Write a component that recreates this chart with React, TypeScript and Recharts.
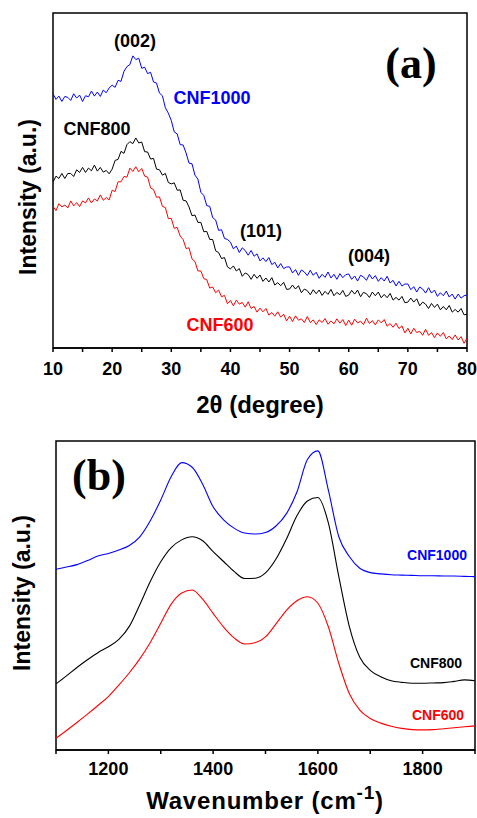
import React from "react";
import { LineChart, Line, XAxis, YAxis, ReferenceArea } from "recharts";

// XRD patterns, 2θ from 10° to 80° every 0.5°
const xrdAngles = Array.from({ length: 141 }, (_, i) => 10 + i * 0.5);

const xrdCnf1000 = [
  75.9, 74.2, 75.2, 73.6, 75.1, 74.8, 73.9, 75.9, 74.6, 75.5, 73.6, 75.3, 75.0, 76.7, 75.2, 76.4, 75.1, 77.0, 76.2, 77.6,
  78.5, 77.8, 79.9, 79.6, 82.6, 84.0, 84.6, 87.2, 86.1, 86.5, 83.5, 83.8, 81.9, 82.3, 79.4, 79.1, 76.1, 75.3, 71.7, 70.1,
  67.9, 64.5, 63.9, 60.7, 60.6, 58.2, 55.2, 55.0, 51.6, 50.4, 46.5, 45.5, 42.5, 42.3, 38.9, 38.2, 35.1, 35.3, 32.7, 32.4,
  31.6, 29.6, 30.4, 28.5, 29.9, 29.1, 27.7, 29.1, 27.4, 28.1, 26.0, 26.9, 25.8, 27.0, 24.9, 25.6, 23.9, 25.2, 23.7, 24.2,
  24.2, 22.4, 23.4, 21.7, 23.3, 22.7, 21.6, 23.2, 21.7, 22.6, 20.8, 22.0, 21.1, 22.7, 20.9, 22.0, 20.5, 22.2, 21.0, 21.9,
  22.1, 20.5, 21.5, 20.0, 21.7, 21.2, 20.2, 22.0, 20.6, 21.6, 19.9, 21.0, 20.0, 21.4, 19.4, 20.2, 18.5, 19.9, 18.5, 19.1,
  19.1, 17.4, 18.3, 16.7, 18.2, 17.6, 16.4, 18.0, 16.4, 17.3, 15.4, 16.5, 15.6, 17.0, 15.2, 16.1, 14.6, 16.1, 14.9, 15.6,
  15.8,
];

const xrdCnf800 = [
  49.5, 51.3, 50.6, 52.1, 50.6, 52.1, 52.1, 51.2, 53.2, 52.4, 53.9, 52.4, 53.7, 52.9, 54.6, 52.8, 53.9, 52.5, 53.0, 52.0,
  53.4, 56.0, 56.3, 58.7, 58.1, 60.7, 61.6, 61.0, 62.7, 61.2, 61.5, 58.6, 58.5, 56.4, 56.6, 53.4, 53.2, 51.6, 52.1, 49.4,
  49.0, 49.3, 47.1, 47.2, 44.1, 43.9, 42.1, 39.5, 39.7, 37.5, 37.5, 34.7, 34.8, 32.4, 32.4, 29.0, 28.5, 26.7, 27.0, 24.2,
  23.6, 24.5, 23.0, 23.7, 21.4, 22.4, 21.9, 20.5, 22.0, 20.8, 21.8, 19.9, 20.9, 19.7, 21.0, 18.8, 19.5, 18.6, 19.6, 17.5,
  17.6, 18.8, 17.6, 18.6, 16.5, 17.6, 17.1, 15.9, 17.4, 16.2, 17.3, 15.7, 16.9, 16.0, 17.5, 15.6, 16.6, 15.9, 17.2, 15.4,
  15.8, 17.2, 16.1, 17.3, 15.3, 16.6, 16.2, 15.1, 16.7, 15.6, 16.7, 15.0, 16.0, 15.0, 16.3, 14.3, 15.1, 14.3, 15.4, 13.5,
  13.7, 14.9, 13.7, 14.7, 12.6, 13.7, 13.1, 11.8, 13.3, 12.1, 13.1, 11.4, 12.4, 11.4, 12.7, 10.7, 11.5, 10.7, 11.8, 9.9,
  10.1,
];

const xrdCnf600 = [
  42.3, 41.0, 43.1, 42.1, 42.7, 41.8, 43.9, 42.4, 43.4, 42.2, 43.9, 43.3, 44.8, 43.3, 44.5, 43.9, 45.7, 44.1, 44.9, 44.2,
  47.1, 46.7, 49.6, 49.6, 51.2, 51.0, 53.7, 52.7, 54.1, 52.6, 53.6, 51.3, 51.0, 47.8, 47.3, 45.0, 45.1, 42.3, 41.9, 38.6,
  38.7, 35.7, 36.0, 33.4, 32.4, 29.7, 29.9, 26.6, 25.8, 23.0, 23.0, 20.7, 20.4, 17.9, 18.2, 16.5, 17.3, 15.3, 15.7, 13.2,
  14.2, 12.6, 14.3, 13.1, 13.6, 12.2, 13.8, 11.8, 12.4, 10.7, 11.9, 10.8, 11.8, 9.8, 10.6, 9.5, 10.8, 9.2, 10.1, 8.1,
  9.5, 7.9, 9.6, 8.3, 8.7, 7.6, 9.4, 7.6, 8.4, 7.0, 8.4, 7.6, 8.8, 7.1, 8.1, 7.2, 8.7, 7.4, 8.5, 6.7,
  8.3, 6.8, 8.6, 7.5, 8.0, 7.0, 8.9, 7.3, 8.2, 6.9, 8.4, 7.5, 8.5, 6.5, 7.3, 6.2, 7.4, 5.8, 6.6, 4.5,
  5.9, 4.2, 5.9, 4.6, 5.0, 3.8, 5.6, 3.8, 4.6, 3.1, 4.5, 3.5, 4.6, 2.7, 3.6, 2.5, 3.9, 2.4, 3.4, 1.4,
  2.9,
];

// major ticks every 10°, minor every 5°
const xrdTicks = [10, 15, 20, 25, 30, 35, 40, 45, 50, 55, 60, 65, 70, 75, 80];

// Raman spectra
const ramanWavenumbers = [
  1100, 1120, 1140, 1160, 1180, 1200, 1220, 1240, 1260, 1280, 1300, 1320, 1340, 1360, 1380, 1400, 1420, 1440, 1460, 1480,
  1500, 1520, 1540, 1560, 1580, 1600, 1620, 1640, 1660, 1680, 1700, 1720, 1740, 1760, 1780, 1800, 1820, 1840, 1860, 1880,
  1900,
];

const ramanCnf1000 = [
  58.5, 59.2, 60.0, 61.3, 62.8, 63.6, 64.7, 66.2, 69.0, 74.2, 80.9, 88.5, 93.0, 91.5, 86.0, 78.7, 74.5, 71.8, 70.2, 69.9,
  70.4, 72.5, 76.5, 83.5, 94.0, 96.8, 84.1, 69.0, 62.6, 58.8, 57.4, 57.0, 56.7, 56.6, 56.5, 56.4, 56.4, 56.3, 56.3, 56.2,
  56.1,
];

const ramanCnf800 = [
  21.4, 24.0, 26.7, 29.2, 31.5, 33.4, 35.8, 40.0, 47.0, 54.5, 60.9, 65.5, 68.0, 69.0, 67.7, 64.2, 61.0, 57.8, 55.5, 55.6,
  57.3, 61.8, 68.3, 75.8, 80.6, 81.7, 73.5, 56.1, 40.0, 30.0, 25.8, 23.7, 22.4, 21.9, 21.6, 21.6, 21.7, 21.8, 22.2, 22.7,
  22.4,
];

const ramanCnf600 = [
  3.8, 6.3, 8.9, 11.6, 14.4, 17.3, 21.0, 25.0, 29.5, 34.8, 41.0, 47.2, 50.8, 51.8, 48.8, 44.2, 39.8, 36.3, 34.3, 34.7,
  36.6, 40.8, 45.2, 48.3, 49.6, 47.5, 39.9, 28.0, 18.3, 12.9, 10.2, 8.7, 7.7, 7.0, 6.6, 6.5, 6.6, 6.9, 7.2, 7.5,
  7.8,
];

const ramanTicks = [1100, 1200, 1300, 1400, 1500, 1600, 1700, 1800, 1900];

const xrdData = xrdAngles.map((angle, i) => ({
  angle,
  cnf1000: xrdCnf1000[i],
  cnf800: xrdCnf800[i],
  cnf600: xrdCnf600[i],
}));

const ramanData = ramanWavenumbers.map((wn, i) => ({
  wn,
  cnf1000: ramanCnf1000[i],
  cnf800: ramanCnf800[i],
  cnf600: ramanCnf600[i],
}));

const SANS = '"Liberation Sans", Arial, sans-serif';
const SERIF = '"Liberation Serif", "Times New Roman", serif';
const BLUE = "#0000ff";
const RED = "#ff0000";

function Txt({
  x,
  y,
  size,
  color = "#000",
  serif = false,
  rotate = false,
  spacing = 0,
  children,
}: {
  x: number;
  y: number;
  size: number;
  color?: string;
  serif?: boolean;
  rotate?: boolean;
  spacing?: number;
  children: React.ReactNode;
}) {
  return (
    <div
      style={{
        position: "absolute",
        left: x,
        top: y,
        transform: `translate(-50%, -50%)${rotate ? " rotate(-90deg)" : ""}`,
        fontFamily: serif ? SERIF : SANS,
        fontWeight: "bold",
        fontSize: size,
        lineHeight: 1,
        letterSpacing: spacing,
        color,
        whiteSpace: "nowrap",
      }}
    >
      {children}
    </div>
  );
}

const tickStyle = {
  fill: "#000",
  fontSize: 18,
  fontWeight: "bold",
  fontFamily: SANS,
};

function XrdChart() {
  return (
    <LineChart
      width={477}
      height={410}
      data={xrdData}
      margin={{ top: 13, right: 10, bottom: 32, left: 53 }}
    >
      <XAxis
        dataKey="angle"
        type="number"
        domain={[10, 80]}
        ticks={xrdTicks}
        interval={0}
        tickFormatter={(v: number) => (v % 10 === 0 ? String(v) : "")}
        height={30}
        tickSize={4}
        tickMargin={10}
        axisLine={{ stroke: "#000", strokeWidth: 1.5 }}
        tickLine={{ stroke: "#000", strokeWidth: 1.5 }}
        tick={tickStyle}
        allowDataOverflow
      />
      <YAxis hide domain={[0, 100]} />
      <ReferenceArea
        x1={10}
        x2={80}
        y1={0}
        y2={100}
        fill="none"
        fillOpacity={0}
        stroke="#000"
        strokeWidth={1.5}
      />
      <Line dataKey="cnf1000" type="linear" stroke={BLUE} strokeWidth={1} dot={false} isAnimationActive={false} />
      <Line dataKey="cnf800" type="linear" stroke="#000" strokeWidth={1} dot={false} isAnimationActive={false} />
      <Line dataKey="cnf600" type="linear" stroke={RED} strokeWidth={1} dot={false} isAnimationActive={false} />
    </LineChart>
  );
}

function RamanChart() {
  return (
    <LineChart
      width={477}
      height={408}
      data={ramanData}
      margin={{ top: 31, right: 2, bottom: 38, left: 56 }}
    >
      <XAxis
        dataKey="wn"
        type="number"
        domain={[1100, 1900]}
        ticks={ramanTicks}
        interval={0}
        tickFormatter={(v: number) => (v % 200 === 0 ? String(v) : "")}
        height={30}
        tickSize={4}
        tickMargin={8}
        axisLine={{ stroke: "#000", strokeWidth: 1.5 }}
        tickLine={{ stroke: "#000", strokeWidth: 1.5 }}
        tick={tickStyle}
        allowDataOverflow
      />
      <YAxis hide domain={[0, 100]} />
      <ReferenceArea
        x1={1100}
        x2={1900}
        y1={0}
        y2={100}
        fill="none"
        fillOpacity={0}
        stroke="#000"
        strokeWidth={1.5}
      />
      <Line dataKey="cnf1000" type="monotone" stroke={BLUE} strokeWidth={1.1} dot={false} isAnimationActive={false} />
      <Line dataKey="cnf800" type="monotone" stroke="#000" strokeWidth={1.1} dot={false} isAnimationActive={false} />
      <Line dataKey="cnf600" type="monotone" stroke={RED} strokeWidth={1.1} dot={false} isAnimationActive={false} />
    </LineChart>
  );
}

export default function App() {
  return (
    <div
      style={{
        position: "absolute",
        left: 0,
        top: 0,
        width: 477,
        height: 818,
        background: "#fff",
        overflow: "hidden",
      }}
    >
      <div style={{ position: "absolute", left: 0, top: 0 }}>
        <XrdChart />
      </div>
      <div style={{ position: "absolute", left: 0, top: 410 }}>
        <RamanChart />
      </div>

      {/* panel (a) annotations */}
      <Txt x={135} y={41} size={18}>(002)</Txt>
      <Txt x={212} y={98} size={18} color={BLUE}>CNF1000</Txt>
      <Txt x={97} y={129} size={18}>CNF800</Txt>
      <Txt x={261} y={231} size={18}>(101)</Txt>
      <Txt x={369} y={256} size={18}>(004)</Txt>
      <Txt x={220} y={325} size={18} color={RED}>CNF600</Txt>
      <Txt x={411} y={64} size={44} serif>(a)</Txt>
      <Txt x={28} y={197} size={23} rotate>Intensity (a.u.)</Txt>
      <Txt x={260} y={405} size={24}>2θ (degree)</Txt>

      {/* panel (b) annotations */}
      <Txt x={99} y={476} size={44} serif>(b)</Txt>
      <Txt x={437} y={555} size={14} color={BLUE}>CNF1000</Txt>
      <Txt x={436} y={663} size={14}>CNF800</Txt>
      <Txt x={438} y={715} size={14} color={RED}>CNF600</Txt>
      <Txt x={22} y={593} size={23} rotate>Intensity (a.u.)</Txt>
      <Txt x={265} y={801} size={24} spacing={0.8}>
        Wavenumber (cm
        <span style={{ fontSize: 19, position: "relative", top: -10 }}>-1</span>)
      </Txt>
    </div>
  );
}
